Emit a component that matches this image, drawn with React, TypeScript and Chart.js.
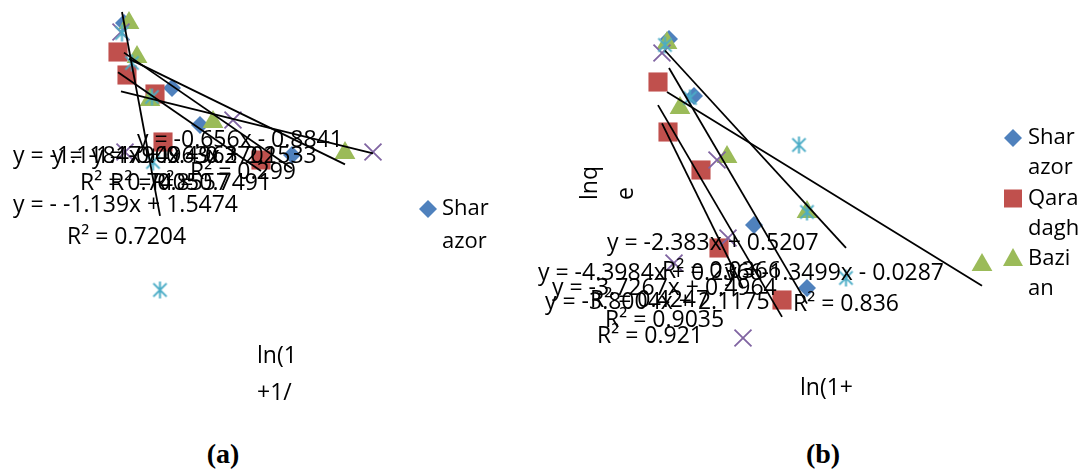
import React, { useEffect, useRef } from "react";
import { Chart, registerables } from "chart.js";

Chart.register(...registerables);

// ---------------- data ----------------
const seriesNames = ["Sharazor", "Qaradagh", "Bazian", "Series4", "Series5"];
const seriesColors = ["#4F81BD", "#C0504D", "#9BBB59", "#8064A2", "#4BACC6"];

// Panel (a)
const aSharazorX = [1.24, 1.55, 1.72, 2.0, 2.92];
const aSharazorY = [3.54, 2.1, 2.24, 1.5, 0.9];
const aQaradaghX = [1.18, 1.27, 1.55, 1.63, 2.61];
const aQaradaghY = [2.96, 2.5, 2.12, 1.16, 0.8];
const aBazianX = [1.29, 1.37, 1.5, 2.13, 3.45];
const aBazianY = [3.54, 2.86, 2.0, 1.56, 0.94];
const aSeries4X = [1.21, 1.25, 2.33, 3.73];
const aSeries4Y = [3.36, 0.96, 1.6, 0.96];
const aSeries5X = [1.22, 1.32, 1.52, 1.53, 1.6];
const aSeries5Y = [3.34, 2.74, 2.06, 0.76, -1.8];

// Panel (b)
const bSharazorX = [1.49, 1.74, 1.81, 2.34, 2.87];
const bSharazorY = [3.22, 2.08, 0.6, -0.5, -1.76];
const bQaradaghX = [1.38, 1.48, 1.81, 1.99, 2.62];
const bQaradaghY = [2.36, 1.36, 0.6, -0.96, -2.0];
const bBazianX = [1.47, 1.6, 2.07, 2.87, 4.62];
const bBazianY = [3.14, 1.84, 0.86, -0.24, -1.3];
const bSeries4X = [1.42, 1.97, 2.08, 1.54, 2.23];
const bSeries4Y = [2.94, 0.8, -0.76, -1.26, -2.76];
const bSeries5X = [1.45, 1.7, 2.79, 2.87, 3.26];
const bSeries5Y = [3.1, 2.04, 1.1, -0.24, -1.56];

// trendline equation / R² texts as shown (overlapping) on each panel
const aEquationTexts = [
  "y = -0.656x - 0.8841",
  "y = -1.1184x + 0.4963",
  "y = -1.1790x + 0.2702",
  "y = -0.4963x + 2.1533",
  "R² = 0.299",
  "R² = 0.7405",
  "R² = 0.8557",
  "R² = 0.7491",
  "y = -",
  "-1.139x + 1.5474",
  "R² = 0.7204",
];
const bEquationTexts = [
  "y = -2.383x + 0.5207",
  "y = -4.3984x + 0.2366",
  "R² = 0.0366",
  "y = -1.3499x - 0.0287",
  "y = -3.7267x + 0.4964",
  "y = -3.8004x + 2.1175",
  "R² = 0.4247",
  "R² = 0.9035",
  "R² = 0.921",
  "R² = 0.836",
];

const aLegendLabels = [["Shar", "azor"]];
const bLegendLabels = [
  ["Shar", "azor"],
  ["Qara", "dagh"],
  ["Bazi", "an"],
];
const aXTitle = ["ln(1", "+1/"];
const bXTitle = ["ln(1+"];
const bYTitle = ["lnq", "e"];
const panelCaptions = ["(a)", "(b)"];

// ---------------- layout (positions in axis units) ----------------
const aEquationPos = [
  [1.37, 1.2],
  [0.13, 0.88],
  [0.52, 0.88],
  [0.92, 0.88],
  [1.9, 0.56],
  [0.8, 0.34],
  [1.1, 0.34],
  [1.52, 0.34],
  [0.13, -0.1],
  [0.63, -0.1],
  [0.67, -0.74],
];
const bEquationPos = [
  [0.87, -0.86],
  [0.18, -1.46],
  [1.42, -1.42],
  [2.05, -1.46],
  [0.32, -1.76],
  [0.25, -2.04],
  [0.7, -2.0],
  [0.85, -2.4],
  [0.77, -2.72],
  [2.73, -2.08],
];

function makeAsterisk(color: string, size: number) {
  const c = document.createElement("canvas");
  c.width = size;
  c.height = size;
  const ctx = c.getContext("2d")!;
  ctx.strokeStyle = color;
  ctx.lineWidth = 2;
  const m = size / 2;
  const r = size / 2 - 1;
  const d = r * 0.78;
  ctx.beginPath();
  ctx.moveTo(m, m - r);
  ctx.lineTo(m, m + r);
  ctx.moveTo(m - d, m - d);
  ctx.lineTo(m + d, m + d);
  ctx.moveTo(m - d, m + d);
  ctx.lineTo(m + d, m - d);
  ctx.stroke();
  return c;
}

function linearFit(xs: number[], ys: number[]) {
  const n = xs.length;
  const mx = xs.reduce((a, b) => a + b, 0) / n;
  const my = ys.reduce((a, b) => a + b, 0) / n;
  let sxx = 0;
  let sxy = 0;
  for (let i = 0; i < n; i++) {
    sxx += (xs[i] - mx) * (xs[i] - mx);
    sxy += (xs[i] - mx) * (ys[i] - my);
  }
  const slope = sxy / sxx;
  const icpt = my - slope * mx;
  const x0 = Math.min(...xs);
  const x1 = Math.max(...xs);
  return [
    { x: x0, y: icpt + slope * x0 },
    { x: x1, y: icpt + slope * x1 },
  ];
}

const EQ_FONT = '23px "Open Sans"';
const LEG_FONT = '22px "Open Sans"';

function drawMarker(ctx: CanvasRenderingContext2D, kind: number, x: number, y: number) {
  ctx.save();
  ctx.fillStyle = seriesColors[kind];
  ctx.beginPath();
  if (kind === 0) {
    const r = 9;
    ctx.moveTo(x - r, y);
    ctx.lineTo(x, y - r);
    ctx.lineTo(x + r, y);
    ctx.lineTo(x, y + r);
    ctx.closePath();
  } else if (kind === 1) {
    ctx.rect(x - 9, y - 9, 18, 18);
  } else {
    ctx.moveTo(x, y - 11);
    ctx.lineTo(x + 10, y + 7);
    ctx.lineTo(x - 10, y + 7);
    ctx.closePath();
  }
  ctx.fill();
  ctx.restore();
}

const textLayer = {
  id: "textLayer",
  afterDatasetsDraw(chart: any, _args: any, opts: any) {
    const ctx: CanvasRenderingContext2D = chart.ctx;
    const sx = chart.scales.x;
    const sy = chart.scales.y;
    const px = (v: number) => sx.getPixelForValue(v);
    const py = (v: number) => sy.getPixelForValue(v);
    ctx.save();
    ctx.fillStyle = "#000";
    ctx.textBaseline = "middle";
    ctx.textAlign = "left";
    ctx.font = EQ_FONT;
    (opts.texts as string[]).forEach((t, i) => {
      const p = opts.positions[i];
      ctx.fillText(t, px(p[0]), py(p[1]));
    });
    // legend
    ctx.font = LEG_FONT;
    const lg = opts.legend;
    (lg.labels as string[][]).forEach((lines, i) => {
      const yTop = py(lg.y) + i * lg.step;
      drawMarker(ctx, i, px(lg.x), yTop);
      lines.forEach((ln, k) => {
        ctx.fillText(ln, px(lg.x) + lg.gap, yTop + k * lg.lineH);
      });
    });
    // x title
    ctx.font = EQ_FONT;
    const xt = opts.xTitle;
    (xt.lines as string[]).forEach((ln, k) => {
      ctx.fillText(ln, px(xt.x), py(xt.y) + k * xt.lineH);
    });
    // y title (rotated)
    if (opts.yTitle) {
      const yt = opts.yTitle;
      (yt.lines as string[]).forEach((ln, k) => {
        ctx.save();
        ctx.translate(px(yt.x) + k * yt.lineH, py(yt.y));
        ctx.rotate(-Math.PI / 2);
        ctx.textAlign = "left";
        ctx.fillText(ln, 0, 0);
        ctx.restore();
      });
    }
    ctx.restore();
  },
};

type Panel = {
  xs: number[][];
  ys: number[][];
  xMax: number;
  texts: string[];
  positions: number[][];
  legend: any;
  xTitle: any;
  yTitle?: any;
};

function buildChart(canvas: HTMLCanvasElement, panel: Panel) {
  const asterisk = makeAsterisk(seriesColors[4], 19);
  const styles: any[] = [
    { pointStyle: "rectRot", pointRadius: 9, borderWidth: 0 },
    { pointStyle: "rect", pointRadius: 13.5, borderWidth: 0 },
    { pointStyle: "triangle", pointRadius: 12, borderWidth: 0 },
    { pointStyle: "crossRot", pointRadius: 12, borderWidth: 1.8 },
    { pointStyle: asterisk, pointRadius: 10, borderWidth: 0 },
  ];
  const datasets: any[] = [];
  panel.xs.forEach((xs, i) => {
    datasets.push({
      label: seriesNames[i],
      data: xs.map((x, j) => ({ x, y: panel.ys[i][j] })),
      backgroundColor: seriesColors[i],
      borderColor: seriesColors[i],
      showLine: false,
      order: 10 - i,
      clip: false,
      ...styles[i],
    });
  });
  panel.xs.forEach((xs, i) => {
    datasets.push({
      label: seriesNames[i] + " trend",
      data: linearFit(xs, panel.ys[i]),
      showLine: true,
      borderColor: "#000",
      borderWidth: 1.8,
      pointRadius: 0,
      fill: false,
      order: 0,
      clip: false,
    });
  });
  return new Chart(canvas, {
    type: "scatter",
    data: { datasets },
    options: {
      animation: false,
      responsive: false,
      events: [],
      layout: { padding: 0, autoPadding: false },
      plugins: {
        legend: { display: false },
        tooltip: { enabled: false },
        textLayer: {
          texts: panel.texts,
          positions: panel.positions,
          legend: panel.legend,
          xTitle: panel.xTitle,
          yTitle: panel.yTitle,
        },
      } as any,
      scales: {
        x: { type: "linear", min: 0, max: panel.xMax, display: false },
        y: { type: "linear", min: -4.6, max: 4, display: false },
      },
    },
    plugins: [textLayer],
  });
}

const panelA: Panel = {
  xs: [aSharazorX, aQaradaghX, aBazianX, aSeries4X, aSeries5X],
  ys: [aSharazorY, aQaradaghY, aBazianY, aSeries4Y, aSeries5Y],
  xMax: 5.2,
  texts: aEquationTexts,
  positions: aEquationPos,
  legend: { labels: aLegendLabels, x: 4.28, y: -0.18, gap: 14, lineH: 33, step: 66 },
  xTitle: { lines: aXTitle, x: 2.57, y: -3.12, lineH: 37 },
};

const panelB: Panel = {
  xs: [bSharazorX, bQaradaghX, bBazianX, bSeries4X, bSeries5X],
  ys: [bSharazorY, bQaradaghY, bBazianY, bSeries4Y, bSeries5Y],
  xMax: 5.63,
  texts: bEquationTexts,
  positions: bEquationPos,
  legend: { labels: bLegendLabels, x: 4.93, y: 1.24, gap: 15, lineH: 30, step: 60.5 },
  xTitle: { lines: bXTitle, x: 2.8, y: -3.76, lineH: 37 },
  yTitle: { lines: bYTitle, x: 0.7, y: 0.0, lineH: 36 },
};

export default function App() {
  const leftRef = useRef<HTMLCanvasElement>(null);
  const rightRef = useRef<HTMLCanvasElement>(null);
  useEffect(() => {
    const c1 = buildChart(leftRef.current!, panelA);
    const c2 = buildChart(rightRef.current!, panelB);
    return () => {
      c1.destroy();
      c2.destroy();
    };
  }, []);
  const capStyle: React.CSSProperties = {
    position: "absolute",
    top: 438,
    width: 80,
    textAlign: "center",
    font: 'bold 28px "Liberation Serif", "Times New Roman", serif',
    color: "#000",
  };
  return (
    <div
      style={{
        position: "absolute",
        left: 0,
        top: 0,
        width: 1083,
        height: 472,
        background: "#fff",
        overflow: "hidden",
      }}
    >
      <canvas ref={leftRef} width={520} height={430} style={{ position: "absolute", left: 0, top: 0 }} />
      <canvas ref={rightRef} width={563} height={430} style={{ position: "absolute", left: 520, top: 0 }} />
      <div style={{ ...capStyle, left: 183 }}>{panelCaptions[0]}</div>
      <div style={{ ...capStyle, left: 783 }}>{panelCaptions[1]}</div>
    </div>
  );
}
